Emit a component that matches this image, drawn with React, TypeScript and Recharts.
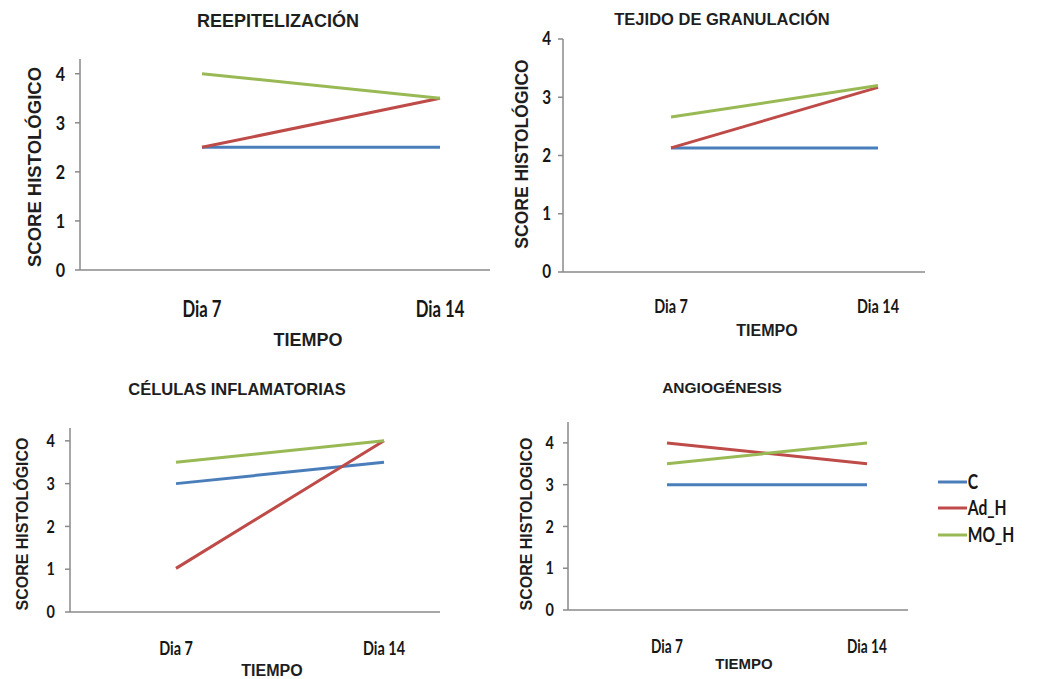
import { Line, LineChart, XAxis, YAxis } from "recharts";

const CATEGORIES = ["Dia 7", "Dia 14"];
const Y_TICKS = [0, 1, 2, 3, 4];

const SERIES = [
  { key: "C", color: "#4a7ebb" },
  { key: "Ad_H", color: "#be4b48" },
  { key: "MO_H", color: "#98b954" },
];

// REEPITELIZACIÓN
const reepC = [2.5, 2.5];
const reepAdH = [2.5, 3.5];
const reepMoH = [4, 3.5];

// TEJIDO DE GRANULACIÓN
const granC = [2.13, 2.13];
const granAdH = [2.13, 3.17];
const granMoH = [2.66, 3.2];

// CÉLULAS INFLAMATORIAS
const inflC = [3, 3.5];
const inflAdH = [1.02, 4];
const inflMoH = [3.5, 4];

// ANGIOGÉNESIS
const angioC = [3, 3];
const angioAdH = [4, 3.5];
const angioMoH = [3.5, 4];

function buildRows(c: number[], adH: number[], moH: number[]) {
  return CATEGORIES.map((day, i) => ({ day, C: c[i], Ad_H: adH[i], MO_H: moH[i] }));
}

const AXIS_COLOR = "#8a8a8a";
const TICK_FONT = "Lato, 'Open Sans', sans-serif";
const SANS = "'Liberation Sans', Arial, sans-serif";

type PanelSpec = {
  title: string;
  yLabel: string;
  rows: ReturnType<typeof buildRows>;
  domainMax: number;
  plotLeft: number;
  plotRight: number;
  yTop: number;
  axisBottom: number;
  padLeft: number;
  padRight: number;
  xTickFont: number;
  yTickFont: number;
  xTickOffset: number;
  yTickMargin: number;
  titlePos: [number, number, number];
  xLabelPos: [number, number, number];
  yLabelPos: [number, number, number];
};

const PANELS: PanelSpec[] = [
  {
    title: "REEPITELIZACIÓN",
    yLabel: "SCORE HISTOLÓGICO",
    rows: buildRows(reepC, reepAdH, reepMoH),
    domainMax: 4.3,
    plotLeft: 80,
    plotRight: 490,
    yTop: 59,
    axisBottom: 270,
    padLeft: 122,
    padRight: 50,
    xTickFont: 22,
    yTickFont: 19,
    xTickOffset: 31,
    yTickMargin: 10,
    titlePos: [278, 21, 18],
    xLabelPos: [308, 340, 18],
    yLabelPos: [35, 167, 18.5],
  },
  {
    title: "TEJIDO DE GRANULACIÓN",
    yLabel: "SCORE HISTOLÓGICO",
    rows: buildRows(granC, granAdH, granMoH),
    domainMax: 4,
    plotLeft: 563,
    plotRight: 925,
    yTop: 39,
    axisBottom: 272,
    padLeft: 108,
    padRight: 47,
    xTickFont: 19,
    yTickFont: 18,
    xTickOffset: 28,
    yTickMargin: 7,
    titlePos: [722, 19, 16.5],
    xLabelPos: [767, 331, 16],
    yLabelPos: [523, 154, 17.5],
  },
  {
    title: "CÉLULAS INFLAMATORIAS",
    yLabel: "SCORE HISTOLÓGICO",
    rows: buildRows(inflC, inflAdH, inflMoH),
    domainMax: 4.3,
    plotLeft: 70,
    plotRight: 440,
    yTop: 428,
    axisBottom: 612,
    padLeft: 106,
    padRight: 56,
    xTickFont: 19,
    yTickFont: 17,
    xTickOffset: 30,
    yTickMargin: 10,
    titlePos: [237, 389, 16.5],
    xLabelPos: [272, 671, 16],
    yLabelPos: [23, 524, 16],
  },
  {
    title: "ANGIOGÉNESIS",
    yLabel: "SCORE HISTOLOGICO",
    rows: buildRows(angioC, angioAdH, angioMoH),
    domainMax: 4.5,
    plotLeft: 568,
    plotRight: 908,
    yTop: 422,
    axisBottom: 610,
    padLeft: 99,
    padRight: 41,
    xTickFont: 18,
    yTickFont: 17,
    xTickOffset: 30,
    yTickMargin: 9,
    titlePos: [722, 388, 15.5],
    xLabelPos: [744, 663, 15],
    yLabelPos: [527, 524, 16],
  },
];

const Y_AXIS_W = 44;
const X_AXIS_H = 50;
const TOP_PAD = 14;

// Calibri-like narrow tick text: Lato squeezed horizontally
function NarrowTick(props: any) {
  const { x, y, payload, textAnchor, fontSize, scaleX, dy } = props;
  return (
    <g transform={`translate(${x},${y}) scale(${scaleX},1)`}>
      <text
        dy={dy}
        fill="#161616"
        fontFamily={TICK_FONT}
        fontSize={fontSize}
        fontWeight={700}
        textAnchor={textAnchor}
      >
        {payload.value}
      </text>
    </g>
  );
}

function Caption({ text, pos, rotate }: { text: string; pos: [number, number, number]; rotate?: boolean }) {
  const [x, y, size] = pos;
  return (
    <div
      style={{
        position: "absolute",
        left: x,
        top: y,
        transform: `translate(-50%, -50%)${rotate ? " rotate(-90deg)" : ""}`,
        fontFamily: SANS,
        fontWeight: 700,
        fontSize: size,
        color: "#1e1e1e",
        whiteSpace: "nowrap",
        lineHeight: 1,
      }}
    >
      {text}
    </div>
  );
}

function Panel({ spec }: { spec: PanelSpec }) {
  const left = spec.plotLeft - Y_AXIS_W;
  const width = spec.plotRight - left;
  const height = spec.axisBottom - spec.yTop + X_AXIS_H + TOP_PAD;
  return (
    <>
      <div style={{ position: "absolute", left, top: spec.yTop - TOP_PAD }}>
        <LineChart
          data={spec.rows}
          height={height}
          margin={{ bottom: 0, left: 0, right: 0, top: TOP_PAD }}
          width={width}
        >
          <XAxis
            axisLine={{ stroke: AXIS_COLOR, strokeWidth: 1.5 }}
            dataKey="day"
            height={X_AXIS_H}
            interval={0}
            padding={{ left: spec.padLeft, right: spec.padRight }}
            tick={(p: any) => (
              <NarrowTick {...p} dy="0.71em" fontSize={spec.xTickFont} scaleX={0.76} />
            )}
            tickLine={false}
            tickMargin={spec.xTickOffset}
            tickSize={0}
          />
          <YAxis
            axisLine={{ stroke: AXIS_COLOR, strokeWidth: 1.5 }}
            domain={[0, spec.domainMax]}
            interval={0}
            tick={(p: any) => (
              <NarrowTick {...p} dy="0.36em" fontSize={spec.yTickFont} scaleX={0.85} />
            )}
            tickLine={{ stroke: AXIS_COLOR, strokeWidth: 1.5 }}
            tickMargin={spec.yTickMargin}
            tickSize={5}
            ticks={Y_TICKS}
            type="number"
            width={Y_AXIS_W}
          />
          {SERIES.map((s) => (
            <Line
              dataKey={s.key}
              dot={false}
              isAnimationActive={false}
              key={s.key}
              stroke={s.color}
              strokeWidth={3}
              type="linear"
            />
          ))}
        </LineChart>
      </div>
      <Caption pos={spec.titlePos} text={spec.title} />
      <Caption pos={spec.xLabelPos} text="TIEMPO" />
      <Caption pos={spec.yLabelPos} rotate text={spec.yLabel} />
    </>
  );
}

const LEGEND_ROWS = [482, 508, 535];

export default function App() {
  return (
    <div
      style={{
        position: "absolute",
        left: 0,
        top: 0,
        width: 1039,
        height: 679,
        background: "#fff",
        overflow: "hidden",
      }}
    >
      {PANELS.map((spec) => (
        <Panel key={spec.title} spec={spec} />
      ))}
      {SERIES.map((s, i) => (
        <div
          key={s.key}
          style={{
            position: "absolute",
            left: 938,
            top: LEGEND_ROWS[i] - 12,
            height: 24,
            display: "flex",
            alignItems: "center",
          }}
        >
          <svg height={4} width={29}>
            <line stroke={s.color} strokeWidth={3} x1={0} x2={29} y1={2} y2={2} />
          </svg>
          <svg height={24} width={50}>
            <text
              fill="#161616"
              fontFamily={TICK_FONT}
              fontSize={20}
              fontWeight={700}
              transform="scale(0.78,1)"
              x={1}
              y={19}
            >
              {s.key}
            </text>
          </svg>
        </div>
      ))}
    </div>
  );
}
